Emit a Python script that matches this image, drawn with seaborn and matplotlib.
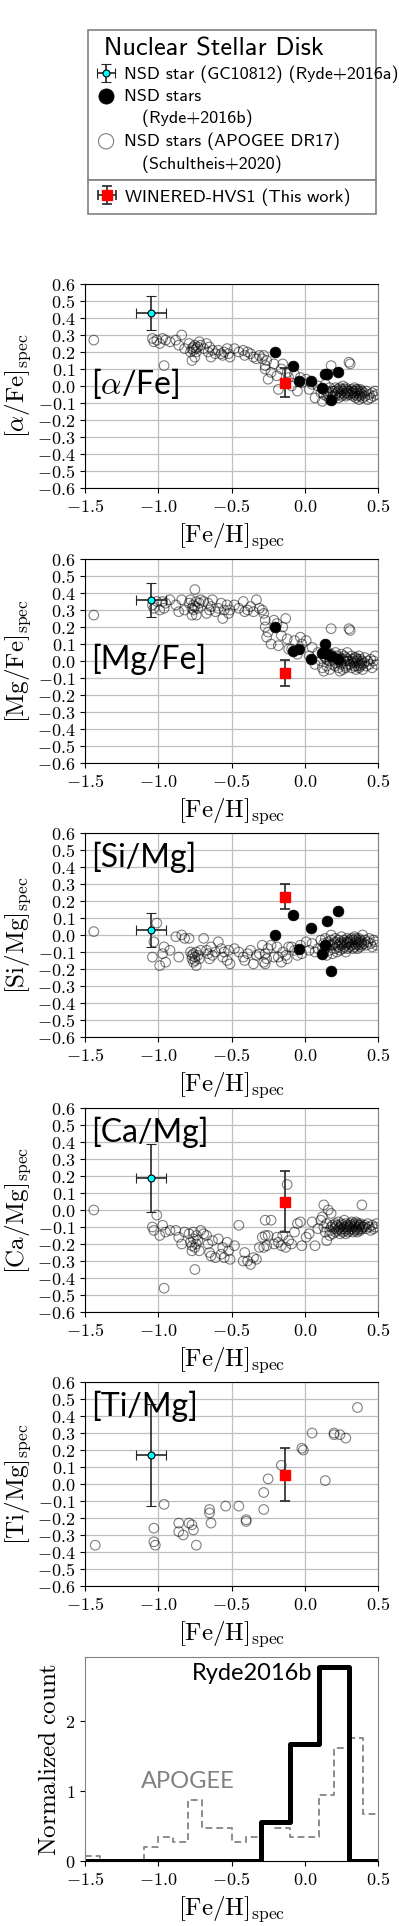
import matplotlib
matplotlib.use('Agg')
import numpy as np
import pandas as pd
import matplotlib.pyplot as plt
import seaborn as sns
from matplotlib.lines import Line2D
from matplotlib.ticker import MultipleLocator, FixedLocator, FuncFormatter
from matplotlib.legend_handler import HandlerPathCollection

plt.rcParams['mathtext.fontset'] = 'cm'

# --- APOGEE DR17 NSD stars (Schultheis+2020) ---
apogee_feh = [-1.44,
              -1.04, -1.03, -1.01,
              -0.99, -0.97, -0.96, -0.95, -0.92,
              -0.88, -0.86, -0.84, -0.82,
              -0.79, -0.78, -0.77, -0.77, -0.76, -0.76, -0.75, -0.75, -0.74, -0.74, -0.73, -0.72, -0.71,
              -0.69, -0.67, -0.66, -0.65, -0.64, -0.63, -0.61,
              -0.59, -0.57, -0.56, -0.55, -0.53, -0.52, -0.51,
              -0.48, -0.45, -0.42, -0.41,
              -0.39, -0.37, -0.35, -0.33, -0.31,
              -0.29, -0.28, -0.27, -0.27, -0.26, -0.25, -0.23, -0.21,
              -0.19, -0.18, -0.16, -0.15, -0.13, -0.12, -0.11,
              -0.09, -0.07, -0.05, -0.03, -0.02,
              0.01, 0.03, 0.05, 0.07, 0.09,
              0.11, 0.12, 0.13, 0.13, 0.14, 0.15, 0.15, 0.16, 0.17, 0.17, 0.18, 0.18, 0.19, 0.19,
              0.205, 0.208, 0.21, 0.21, 0.22, 0.22, 0.23, 0.23, 0.24, 0.24, 0.25, 0.25, 0.25, 0.26, 0.26,
              0.27, 0.27, 0.28, 0.28, 0.28, 0.29, 0.29, 0.29, 0.295,
              0.302, 0.31, 0.305, 0.31, 0.32, 0.32, 0.33, 0.33, 0.34, 0.34, 0.34, 0.35, 0.35, 0.35, 0.36,
              0.36, 0.36, 0.37, 0.37, 0.37, 0.38, 0.38, 0.38, 0.39, 0.39, 0.395,
              0.405, 0.41, 0.42, 0.43, 0.44, 0.45, 0.46, 0.47, 0.48, 0.49]
apogee_alpha = [0.27,
                0.28, 0.26, 0.27,
                0.25, 0.28, 0.12, 0.27, 0.26,
                0.27, 0.24, 0.30, 0.22,
                0.25, 0.20, 0.15, 0.22, 0.23, 0.21, 0.24, 0.17, 0.22, 0.20, 0.23, 0.26, 0.24,
                0.22, 0.25, 0.20, 0.23, 0.17, 0.21, 0.19,
                0.21, 0.19, 0.18, 0.20, 0.22, 0.19, 0.17,
                0.22, 0.20, 0.21, 0.18,
                0.20, 0.19, 0.17, 0.16, 0.18,
                0.16, 0.18, 0.12, 0.10, 0.15, 0.04, 0.08, 0.13,
                0.06, -0.02, 0.10, 0.13, 0.02, 0.08, 0.05,
                0.00, 0.07, -0.03, 0.05, 0.02,
                0.04, -0.02, 0.01, -0.07, 0.00,
                -0.04, -0.09, -0.02, -0.05, 0.01, -0.06, -0.03, -0.05, -0.08, -0.01, -0.04, 0.12, -0.06, -0.03,
                -0.03, -0.05, -0.01, -0.06, -0.04, -0.02, -0.07, -0.03, -0.05, -0.01, -0.04, -0.02, -0.06, -0.03, 0.00,
                -0.05, -0.02, -0.04, -0.06, -0.01, -0.03, -0.04, -0.02, -0.05,
                0.14, 0.13, -0.03, -0.05, -0.02, -0.04, -0.06, -0.03, -0.01, -0.05, -0.04, -0.02, -0.07, -0.03, -0.04,
                -0.06, -0.02, -0.05, -0.03, -0.08, -0.04, -0.02, -0.06, -0.03, -0.05, -0.07,
                -0.04, -0.06, -0.03, -0.08, -0.05, -0.07, -0.04, -0.06, -0.03, -0.05]
apogee_mg = [0.27,
             0.33, 0.31, 0.35,
             0.30, 0.35, 0.31, 0.34, 0.36,
             0.33, 0.29, 0.36, 0.30,
             0.34, 0.36, 0.31, 0.27, 0.33, 0.30, 0.32, 0.42, 0.35, 0.27, 0.31, 0.34, 0.36,
             0.35, 0.28, 0.34, 0.30, 0.32, 0.36, 0.29,
             0.31, 0.34, 0.25, 0.30, 0.33, 0.28, 0.30,
             0.33, 0.31, 0.35, 0.29,
             0.30, 0.32, 0.29, 0.36, 0.31,
             0.30, 0.28, 0.24, 0.20, 0.14, 0.17, 0.10, 0.24,
             0.22, 0.09, 0.15, 0.20, 0.25, 0.13, 0.07,
             0.07, 0.12, 0.04, 0.14, 0.10,
             0.12, 0.03, 0.08, -0.02, 0.05,
             0.00, -0.04, 0.03, -0.06, 0.02, 0.01, -0.03, 0.05, -0.05, 0.00, 0.04, 0.19, -0.02, 0.01,
             0.02, -0.03, 0.05, -0.01, 0.00, 0.03, -0.04, 0.01, -0.06, 0.02, -0.02, 0.04, -0.01, 0.01, -0.05,
             0.03, 0.00, -0.03, 0.02, -0.04, 0.05, 0.01, -0.02, 0.00,
             0.19, 0.18, 0.00, -0.02, 0.03, -0.04, 0.01, -0.01, 0.02, -0.03, 0.00, -0.05, 0.02, -0.01, 0.01,
             -0.03, 0.00, -0.02, 0.03, -0.04, -0.01, 0.01, -0.03, 0.00, -0.02, -0.05,
             -0.01, 0.02, -0.03, 0.00, -0.02, 0.01, -0.04, 0.00, 0.03, -0.02]
apogee_si = [0.02,
             -0.13, -0.04, 0.07,
             -0.18, -0.11, -0.07, -0.16, -0.09,
             -0.01, -0.13, 0.00, -0.02,
             -0.02, -0.10, -0.14, -0.12, -0.16, -0.11, -0.15, -0.13, -0.18, -0.10, -0.12, -0.14, -0.09,
             -0.02, -0.09, -0.11, -0.14, -0.07, -0.12, -0.10,
             -0.04, -0.08, -0.13, -0.10, -0.15, -0.09, -0.17,
             -0.08, -0.10, -0.13, -0.15,
             -0.11, -0.09, -0.17, -0.12, -0.11,
             -0.06, -0.16, -0.17, -0.11, -0.14, -0.08, -0.06, -0.13,
             -0.07, -0.13, -0.16, -0.10, -0.12, -0.14, -0.07,
             -0.07, -0.09, -0.12, -0.06, -0.11,
             -0.04, -0.09, -0.05, -0.10, -0.08,
             -0.03, -0.08, -0.10, -0.05, -0.02, -0.12, -0.07, -0.04, -0.09, -0.06, -0.03, 0.00, -0.11, -0.06,
             -0.05, -0.02, -0.08, -0.04, -0.10, -0.06, -0.03, -0.07, -0.05, -0.09, -0.04, -0.01, -0.06, -0.08, -0.05,
             -0.03, -0.07, -0.04, -0.10, -0.06, -0.02, -0.05, -0.08, -0.04,
             -0.05, -0.03, -0.07, -0.04, -0.02, -0.06, -0.08, -0.03, -0.05, -0.01, -0.07, -0.04, -0.06, -0.02, -0.05,
             -0.03, -0.08, -0.04, -0.06, -0.02, -0.05, -0.07, -0.03, -0.04, -0.06, 0.00,
             -0.05, -0.03, -0.06, -0.04, -0.02, -0.05, -0.07, -0.03, -0.04, -0.06]
apogee_ca = [0.00,
             -0.10, -0.12, -0.03,
             -0.15, -0.09, -0.46, -0.13, -0.12,
             -0.12, -0.16, -0.20, -0.13,
             -0.14, -0.19, -0.21, -0.24, -0.17, -0.13, -0.35, -0.22, -0.15, -0.20, -0.18, -0.24, -0.12,
             -0.14, -0.15, -0.20, -0.25, -0.27, -0.18, -0.28,
             -0.17, -0.26, -0.22, -0.28, -0.19, -0.24, -0.29,
             -0.21, -0.09, -0.30, -0.25,
             -0.30, -0.32, -0.28, -0.29, -0.22,
             -0.16, -0.22, -0.15, -0.06, -0.21, -0.15, -0.06, -0.20,
             -0.16, -0.19, -0.21, -0.15, -0.22, 0.15, -0.18,
             -0.20, -0.13, -0.08, -0.07, -0.21,
             -0.16, -0.14, -0.07, -0.21, -0.11,
             -0.06, -0.04, 0.03, -0.10, -0.13, -0.18, -0.08, 0.00, -0.12, -0.15, -0.10, -0.02, -0.14, -0.09,
             -0.11, -0.08, -0.13, -0.10, -0.09, -0.12, -0.07, -0.11, -0.14, -0.10, -0.08, -0.12, -0.09, -0.13, -0.11,
             -0.06, -0.10, -0.12, -0.08, -0.14, -0.10, -0.11, -0.09, -0.13,
             -0.10, -0.08, -0.12, -0.09, -0.11, -0.07, -0.13, -0.10, -0.08, -0.12, -0.09, -0.11, -0.07, -0.10, -0.12,
             -0.08, -0.13, -0.09, -0.11, -0.10, -0.08, -0.12, -0.09, -0.11, 0.03, -0.10,
             -0.10, -0.09, -0.11, -0.08, -0.10, -0.12, -0.09, -0.11, -0.10, -0.08]

# APOGEE stars with Ti
ti_feh = [-1.43, -1.03, -1.03, -1.02, -0.96, -0.86, -0.86, -0.83, -0.79, -0.77, -0.76, -0.74,
          -0.65, -0.65, -0.64, -0.54, -0.45, -0.40, -0.40, -0.28, -0.28, -0.25, -0.16, -0.02,
          -0.01, 0.05, 0.14, 0.20, 0.20, 0.24, 0.28, 0.36]
ti_mg = [-0.36, -0.26, -0.34, -0.36, -0.12, -0.23, -0.28, -0.30, -0.23, -0.24, -0.27, -0.36,
         -0.15, -0.17, -0.23, -0.13, -0.13, -0.21, -0.22, -0.15, -0.05, 0.03, 0.11, 0.21,
         0.20, 0.30, 0.02, 0.30, 0.29, 0.29, 0.27, 0.45]

# --- NSD stars (Ryde+2016b) ---
ryde_feh = [-0.20, -0.08, -0.04, 0.04, 0.12, 0.14, 0.15, 0.18, 0.23]
ryde_alpha = [0.20, 0.12, 0.03, 0.03, -0.01, 0.07, 0.07, -0.08, 0.08]
ryde_mg = [0.20, 0.06, 0.07, 0.01, 0.05, 0.10, 0.04, 0.03, 0.01]
ryde_si = [0.00, 0.12, -0.08, 0.04, -0.11, -0.06, 0.08, -0.21, 0.14]

# --- GC10812 (Ryde+2016a), one value per panel ---
gc_feh, gc_feh_err = -1.05, 0.10
gc_vals = [0.43, 0.36, 0.03, 0.19, 0.17]
gc_errs = [0.10, 0.10, 0.10, 0.20, 0.30]

# --- WINERED-HVS1 (this work) ---
hvs_feh, hvs_feh_err = -0.135, 0.03
hvs_vals = [0.02, -0.07, 0.225, 0.05, 0.055]
hvs_errs = [0.085, 0.075, 0.075, 0.18, 0.155]

apogee = pd.DataFrame({'feh': apogee_feh, 'alpha': apogee_alpha, 'mg': apogee_mg,
                       'si': apogee_si, 'ca': apogee_ca})
apogee_ti = pd.DataFrame({'feh': ti_feh, 'ti': ti_mg})
ryde = pd.DataFrame({'feh': ryde_feh, 'alpha': ryde_alpha, 'mg': ryde_mg, 'si': ryde_si})

panels = [
    ('alpha', r'$[\alpha/\mathrm{Fe}]_\mathrm{spec}$', r'[$\alpha$/Fe]', 0.51),
    ('mg', r'$[\mathrm{Mg/Fe}]_\mathrm{spec}$', '[Mg/Fe]', 0.51),
    ('si', r'$[\mathrm{Si/Mg}]_\mathrm{spec}$', '[Si/Mg]', 0.88),
    ('ca', r'$[\mathrm{Ca/Mg}]_\mathrm{spec}$', '[Ca/Mg]', 0.88),
    ('ti', r'$[\mathrm{Ti/Mg}]_\mathrm{spec}$', '[Ti/Mg]', 0.88),
]

W, H = 399, 1926
fig = plt.figure(figsize=(W / 100, H / 100), dpi=100)
tops = [284, 559, 833, 1108, 1382, 1657]
axh = 204
axes = [fig.add_axes([85 / W, 1 - (t + axh) / H, 293 / W, axh / H]) for t in tops]

feh_label = r'$[\mathrm{Fe/H}]_\mathrm{spec}$'
fmt1 = FuncFormatter(lambda v, p: f'${v:.1f}$')

for i, (col, ylab, name, ty) in enumerate(panels):
    ax = axes[i]
    src = apogee_ti if col == 'ti' else apogee
    sc_apo = sns.scatterplot(data=src, x='feh', y=col, ax=ax, s=48, marker='o',
                             facecolor='none', edgecolor=(0, 0, 0, 0.5), linewidth=0.8,
                             zorder=2).collections[-1]
    if col in ryde.columns:
        sns.scatterplot(data=ryde, x='feh', y=col, ax=ax, s=60, color='k',
                        edgecolor='k', linewidth=0.5, zorder=3)
        sc_ryde = ax.collections[-1]
    gc = ax.errorbar(gc_feh, gc_vals[i], xerr=gc_feh_err, yerr=gc_errs[i], fmt='o',
                     mfc='cyan', mec='k', mew=0.8, ms=5, ecolor='0.15', elinewidth=1.2,
                     capsize=3.3, capthick=1.2, zorder=5)
    hvs = ax.errorbar(hvs_feh, hvs_vals[i], xerr=hvs_feh_err, yerr=hvs_errs[i], fmt='s',
                      mfc='red', mec='red', ms=7.5, ecolor='0.15', elinewidth=1.2,
                      capsize=3.3, capthick=1.2, zorder=6)
    if i == 0:
        handles0 = (gc, sc_ryde, sc_apo, hvs)
    ax.set_xlim(-1.5, 0.5)
    ax.set_ylim(-0.6, 0.6)
    ax.xaxis.set_major_locator(MultipleLocator(0.5))
    ax.yaxis.set_major_locator(MultipleLocator(0.1))
    ax.xaxis.set_major_formatter(fmt1)
    ax.yaxis.set_major_formatter(fmt1)
    ax.tick_params(labelsize=13)
    ax.grid(True, color='0.75', lw=0.9)
    ax.set_axisbelow(True)
    ax.set_xlabel(feh_label, fontsize=18)
    ax.set_ylabel(ylab, fontsize=18, labelpad=3)
    ax.spines['right'].set_color('0.5')
    ax.text(0.02, ty, name, transform=ax.transAxes, ha='left', va='center',
            fontsize=23, family='Lato', zorder=7)

# metallicity distribution
hax = axes[5]
sns.histplot(x=apogee_feh, bins=20, binrange=(-1.5, 0.5), stat='density', element='step',
             fill=False, color='0.55', linestyle=(0, (3.5, 2)), linewidth=1.4, ax=hax)
sns.histplot(x=ryde_feh, bins=10, binrange=(-1.5, 0.5), stat='density', element='step',
             fill=False, color='k', linewidth=3.6, ax=hax)
hax.set_xlim(-1.5, 0.5)
hax.xaxis.set_major_locator(MultipleLocator(0.5))
hax.xaxis.set_major_formatter(fmt1)
hax.yaxis.set_major_locator(FixedLocator([0, 1, 2]))
hax.yaxis.set_major_formatter(FuncFormatter(lambda v, p: f'${v:.0f}$'))
hax.tick_params(labelsize=13)
hax.set_xlabel(feh_label, fontsize=18)
hax.set_ylabel(r'$\mathrm{Normalized\ count}$', fontsize=18, labelpad=3)
for s in ('left', 'right', 'top'):
    hax.spines[s].set_color('0.5')
hax.text(0.05, 2.68, 'Ryde2016b', ha='right', va='center', fontsize=17, family='Lato')
hax.text(-0.80, 1.13, 'APOGEE', ha='center', va='center', fontsize=17, family='Lato',
         color='0.5')

# legends
gc, sc_ryde, sc_apo, hvs = handles0
blank = Line2D([], [], linestyle='none')
prop = {'family': 'cmss10', 'size': 13}
hmap = {sc_ryde: HandlerPathCollection(sizes=[120]), sc_apo: HandlerPathCollection(sizes=[120])}
x0, wl = 88 / W, 288 / W
leg1 = fig.legend([gc, sc_ryde, blank, sc_apo, blank],
                  ['NSD star (GC10812) (Ryde+2016a)', 'NSD stars', '   (Ryde+2016b)',
                   'NSD stars (APOGEE DR17)', '   (Schultheis+2020)'],
                  loc='upper left', bbox_to_anchor=(x0, 1 - 30 / H - 0.1, wl, 0.1),
                  mode='expand', borderaxespad=0, prop=prop, handler_map=hmap,
                  title=' Nuclear Stellar Disk', title_fontproperties={'family': 'cmss10', 'size': 19},
                  alignment='left', fancybox=False, edgecolor='0.5', framealpha=1,
                  handlelength=1.2, handletextpad=0.4, labelspacing=0.3, borderpad=0.4)
leg1.get_frame().set_linewidth(1.2)

# stack the second box directly under the first one
fig.canvas.draw()
y_bottom = leg1.get_window_extent().y0 / fig.bbox.height
leg2 = fig.legend([hvs], ['WINERED-HVS1 (This work)'],
                  loc='upper left', bbox_to_anchor=(x0, y_bottom - 0.1, wl, 0.1),
                  mode='expand', borderaxespad=0, prop=prop, fancybox=False,
                  edgecolor='0.5', framealpha=1, handlelength=1.2, handletextpad=0.4,
                  borderpad=0.45)
leg2.get_frame().set_linewidth(1.2)

fig.savefig('out.png', dpi=100)
